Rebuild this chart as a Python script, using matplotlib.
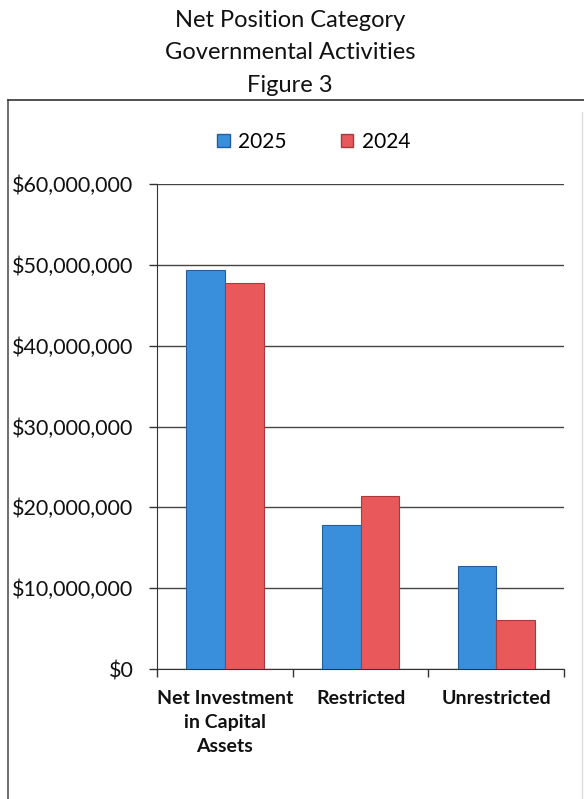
import numpy as np
import matplotlib
matplotlib.use("Agg")
import matplotlib.pyplot as plt
from matplotlib.ticker import FuncFormatter, MultipleLocator
from matplotlib.patches import Rectangle
from matplotlib.lines import Line2D

plt.rcParams['font.family'] = ['Lato', 'DejaVu Sans']

categories = ["Net Investment\nin Capital\nAssets", "Restricted", "Unrestricted"]
years = ["2025", "2024"]
values_2025 = [49400000, 17800000, 12700000]
values_2024 = [47800000, 21400000, 6100000]

blue = "#3a8fdc"
blue_edge = "#1f5f9e"
red = "#e9585b"
red_edge = "#a83a3c"

fig = plt.figure(figsize=(5.84, 7.99), dpi=100)
ax = fig.add_axes([0.269, 0.1627, 0.697, 0.607])

x = np.arange(len(categories))
w = 0.285
ax.bar(x - w/2, values_2025, w, color=blue, edgecolor=blue_edge, linewidth=0.8, zorder=3, label=years[0])
ax.bar(x + w/2, values_2024, w, color=red, edgecolor=red_edge, linewidth=0.8, zorder=3, label=years[1])

ax.set_xlim(-0.5, 2.5)
ax.set_ylim(0, 60000000)
ax.yaxis.set_major_locator(MultipleLocator(10000000))
ax.yaxis.set_major_formatter(FuncFormatter(lambda v, p: "${:,.0f}".format(v)))
ax.grid(axis='y', color='#444444', linewidth=1.0, zorder=0)

# category boundary ticks on the x axis
ax.set_xticks([-0.5, 0.5, 1.5, 2.5])
ax.set_xticklabels([])
ax.tick_params(axis='x', length=6, width=1, color='#333333', direction='out')
ax.tick_params(axis='y', length=6, width=1, color='#333333', direction='out',
               labelsize=15.5, pad=11, labelcolor='#111111')
for i, c in enumerate(categories):
    ax.text(i, -2600000, c, ha='center', va='top', fontsize=14, fontweight='bold',
            linespacing=1.5, color='#111111')

for s in ['top', 'right']:
    ax.spines[s].set_visible(False)
ax.spines['left'].set_color('#333333')
ax.spines['bottom'].set_color('#333333')

# titles
fig.text(0.497, 0.974, "Net Position Category", ha='center', va='center', fontsize=17, color='#111111')
fig.text(0.497, 0.934, "Governmental Activities", ha='center', va='center', fontsize=17, color='#111111')
fig.text(0.497, 0.893, "Figure 3", ha='center', va='center', fontsize=17, color='#111111')

# outer chart frame
fig.add_artist(Line2D([0.014, 0.014], [0.0, 0.875], color='#555555', lw=1.2))
fig.add_artist(Line2D([0.014, 1.0], [0.875, 0.875], color='#333333', lw=1.2))
fig.add_artist(Line2D([0.997, 0.997], [0.0, 0.86], color='#dddddd', lw=1.0))

handles = [Rectangle((0, 0), 1, 1, facecolor=blue, edgecolor=blue_edge),
           Rectangle((0, 0), 1, 1, facecolor=red, edgecolor=red_edge)]
fig.legend(handles, years, loc='center', bbox_to_anchor=(0.537, 0.822), ncol=2,
           frameon=False, fontsize=15, handlelength=0.6, handleheight=0.6,
           handletextpad=0.4, columnspacing=2.6)

fig.savefig("out.png", dpi=100)
